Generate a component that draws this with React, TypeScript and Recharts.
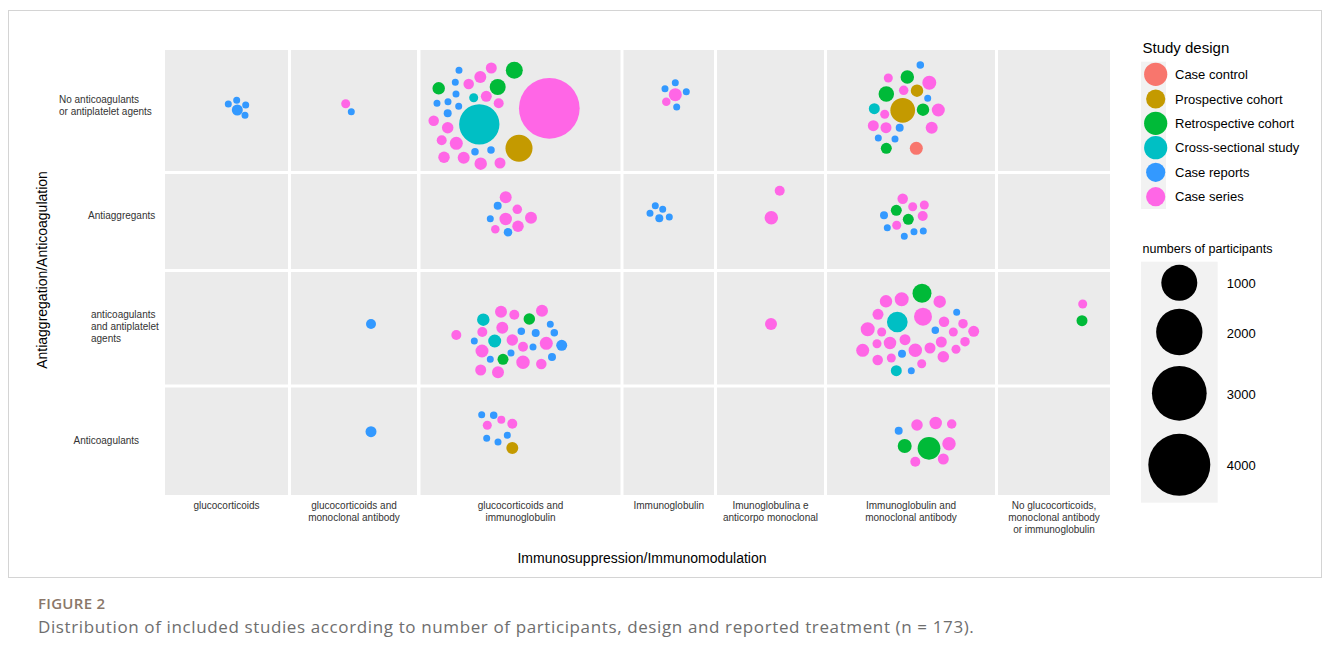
import React from 'react';
import { ScatterChart, Scatter, XAxis, YAxis, ZAxis, ReferenceArea } from 'recharts';

// ---------- categories ----------
const treatments = [
  'glucocorticoids',
  'glucocorticoids and\nmonoclonal antibody',
  'glucocorticoids and\nimmunoglobulin',
  'Immunoglobulin',
  'Imunoglobulina e\nanticorpo monoclonal',
  'Immunoglobulin and\nmonoclonal antibody',
  'No glucocorticoids,\nmonoclonal antibody\nor immunoglobulin',
];
const antithrombotics = [
  'No anticoagulants\nor antiplatelet agents',
  'Antiaggregants',
  'anticoagulants\nand antiplatelet\nagents',
  'Anticoagulants',
];
const designs = [
  'Case control',
  'Prospective cohort',
  'Retrospective cohort',
  'Cross-sectional study',
  'Case reports',
  'Case series',
];
const sizeBreaks = [1000, 2000, 3000, 4000];

// ---------- studies per facet: [design index, participants, packX, packY] ----------
type Study = [number, number, number, number];

const noAnti_gc: Study[] = [
  [4, 1, 63.3, 54], [4, 1, 71.7, 50.3], [4, 1, 80.7, 55], [4, 79, 72.3, 60], [4, 1, 80, 65.3],
];
const noAnti_gcMab: Study[] = [
  [5, 36, 54.7, 53.7], [4, 1, 60.3, 61.7],
];
const noAnti_gcIg: Study[] = [
  [4, 1, 38.5, 20.3], [5, 79, 70.8, 18], [2, 262, 93.8, 20.3], [5, 104, 59.8, 27],
  [4, 1, 34.8, 32.3], [5, 68, 48.2, 34], [2, 118, 18.2, 38.3], [2, 226, 77.2, 37],
  [4, 1, 35.5, 44], [3, 36, 53.2, 47.7], [5, 79, 65.8, 46.3], [4, 1, 16.5, 53.3],
  [4, 1, 27.5, 51.7], [5, 56, 78.2, 53.3], [4, 1, 38.2, 56.3], [4, 17, 27.2, 63.3],
  [5, 68, 13.2, 70.7], [3, 1717, 58.8, 74.3], [5, 92, 27.2, 77.7], [5, 3961, 128.8, 58.3],
  [5, 56, 21.2, 90.3], [5, 132, 35.8, 93.3], [1, 742, 98.5, 98.3], [4, 9, 54.5, 101.7],
  [4, 9, 70.5, 100], [5, 92, 23.5, 107.3], [5, 104, 43.2, 107.7], [5, 118, 60.2, 113.7],
  [5, 79, 79.5, 113],
];
const noAnti_ig: Study[] = [
  [4, 1, 51.8, 32.7], [4, 1, 41.5, 38.7], [5, 132, 51.8, 44.7], [4, 1, 62.8, 41.7],
  [5, 26, 42.8, 51.7], [4, 1, 53.2, 57],
];
const noAnti_igMab: Study[] = [
  [4, 9, 93.3, 15], [5, 36, 61.3, 28], [2, 146, 80.3, 27], [5, 161, 102.3, 32.7],
  [2, 209, 59.3, 44], [5, 46, 76.7, 40.3], [1, 118, 90, 40.7], [4, 1, 100.7, 48.3],
  [3, 79, 47.3, 58.7], [1, 612, 75.7, 60.3], [2, 118, 96, 59.7], [5, 132, 111.3, 60],
  [5, 36, 57.7, 64.3], [5, 79, 46.3, 75.7], [5, 79, 59, 77.7], [4, 17, 72.7, 77.7],
  [5, 104, 104.7, 77.7], [4, 1, 51.3, 88], [4, 1, 68, 89], [2, 79, 59.3, 98.3],
  [0, 132, 89.3, 98.3],
];
const antiAgg_gcIg: Study[] = [
  [5, 104, 85.2, 23.3], [4, 17, 77.2, 31.7], [5, 46, 96.8, 35.3], [4, 1, 69.8, 44.7],
  [5, 118, 85.2, 45], [5, 104, 110.5, 43.7], [5, 92, 97.5, 52.3], [5, 26, 74.8, 55.3],
  [4, 26, 87.5, 58.3],
];
const antiAgg_ig: Study[] = [
  [4, 1, 31.8, 31.7], [4, 1, 39.2, 35.3], [4, 1, 26.5, 39.3], [4, 17, 35.8, 44.3], [4, 1, 45.8, 43],
];
const antiAgg_igMabPt: Study[] = [
  [5, 56, 62.7, 16.7], [5, 146, 54.3, 43.7],
];
const antiAgg_igMab: Study[] = [
  [5, 68, 75.7, 24.7], [5, 36, 85.7, 32.7], [5, 36, 97.3, 31], [2, 79, 69.3, 36.3],
  [4, 17, 57, 41.3], [2, 79, 81.3, 45.3], [5, 56, 95.7, 42], [5, 36, 69.7, 51.3],
  [4, 1, 60.3, 53.7], [4, 1, 87, 57.7], [4, 1, 96.3, 57], [4, 1, 77.3, 62.3],
];
const both_gcMab: Study[] = [
  [4, 56, 80, 52],
];
const both_gcIg: Study[] = [
  [5, 104, 80.5, 39.7], [5, 56, 93.8, 42.7], [5, 104, 121.5, 38.7], [3, 118, 62.8, 47.7],
  [2, 92, 108.8, 47], [4, 1, 129.8, 52.3], [5, 56, 35.8, 63], [5, 56, 61.8, 60],
  [5, 104, 81.8, 55.7], [4, 9, 100.8, 59.3], [4, 17, 115.2, 61], [4, 9, 133.8, 60.7],
  [4, 1, 53.8, 69], [3, 132, 74.2, 69], [5, 92, 91.8, 68], [5, 56, 102.5, 74.7],
  [4, 1, 112.5, 75], [5, 132, 125.8, 71.3], [4, 79, 141.2, 73.3], [5, 132, 61.5, 79],
  [4, 1, 90.5, 81], [4, 1, 69.8, 87.3], [2, 79, 82.5, 87.3], [5, 146, 102.5, 90.3],
  [4, 17, 131.5, 85], [5, 68, 120.8, 92], [5, 79, 60.2, 98], [5, 104, 77.5, 100.3],
];
const both_igMabPt: Study[] = [
  [5, 104, 54, 52],
];
const both_igMab: Study[] = [
  [2, 340, 95, 21.3], [5, 118, 59, 29.3], [5, 161, 74.7, 27.3], [5, 118, 112.7, 29.7],
  [5, 79, 51, 42.3], [3, 414, 70.3, 50], [5, 300, 96, 44.7], [4, 1, 129.7, 40.3],
  [5, 68, 117, 49.7], [5, 46, 136, 51.7], [5, 161, 40.7, 57.3], [5, 36, 54.7, 60],
  [4, 9, 108.3, 58.3], [5, 36, 126.3, 60], [5, 79, 146.7, 59.3], [5, 36, 50, 71.7],
  [5, 118, 63, 71], [5, 79, 78, 67.7], [5, 79, 114.3, 70], [5, 46, 138, 69.7],
  [5, 132, 35.7, 78.3], [5, 146, 88.3, 78.3], [5, 79, 103, 76], [5, 36, 129, 77.3],
  [4, 17, 75, 81.7], [5, 68, 50.7, 88], [5, 36, 64.3, 86], [5, 92, 116.3, 84.7],
  [5, 36, 94.7, 91.7], [3, 79, 69.3, 98.7], [4, 1, 84.3, 98.7],
];
const both_none: Study[] = [
  [5, 36, 84.7, 32], [2, 79, 84, 48.7],
];
const anticoag_gcMab: Study[] = [
  [4, 79, 80, 44.2],
];
const anticoag_gcIg: Study[] = [
  [4, 1, 61.2, 27.2], [4, 9, 73.2, 27.8], [5, 17, 80.8, 32.2], [5, 56, 91.8, 36.2],
  [5, 36, 66.8, 37.8], [4, 1, 66.2, 50.8], [4, 1, 86.8, 47.8], [4, 1, 77.5, 54.5],
  [1, 104, 91.8, 60.5],
];
const anticoag_igMab: Study[] = [
  [4, 17, 71.7, 43.2], [5, 92, 90, 37.5], [5, 118, 108.7, 35.5], [5, 46, 124.7, 36.5],
  [2, 161, 77.7, 58.5], [2, 509, 102, 60.8], [5, 146, 122, 56.2], [5, 56, 88.3, 74.2],
  [5, 79, 116.3, 71.5],
];

// facet membership: [row, column, studies]
const facets: [number, number, Study[]][] = [
  [0, 0, noAnti_gc], [0, 1, noAnti_gcMab], [0, 2, noAnti_gcIg], [0, 3, noAnti_ig], [0, 5, noAnti_igMab],
  [1, 2, antiAgg_gcIg], [1, 3, antiAgg_ig], [1, 4, antiAgg_igMabPt], [1, 5, antiAgg_igMab],
  [2, 1, both_gcMab], [2, 2, both_gcIg], [2, 4, both_igMabPt], [2, 5, both_igMab], [2, 6, both_none],
  [3, 1, anticoag_gcMab], [3, 2, anticoag_gcIg], [3, 5, anticoag_igMab],
];

// ---------- layout / style (not data) ----------
const colSpans = [[0, 123], [126, 252], [255.5, 455.5], [458.5, 549], [552, 659], [662, 830], [833, 945]];
const rowSpans = [[0, 121], [124, 219], [222, 334.5], [337.5, 445]];
const designColors = ['#F8766D', '#C49A00', '#00BA38', '#00BFC4', '#3399FF', '#FF66E6'];
const legendKeyR = [11.6, 9.6, 11.6, 11.6, 9.6, 9.6];
const rowLabelLeft = [59, 88, 91, 73.5];
const rowLabelFirstDy = [-11.2, -5.8, -14.3, -1.3];
const FONT = '"Liberation Sans", Arial, Helvetica, sans-serif';
const CAPTION_FONT = '"Open Sans", "Noto Sans", sans-serif';

const colCenters = colSpans.map(([a, b]) => (a + b) / 2);
const rowCenters = rowSpans.map(([a, b]) => (a + b) / 2);

const seriesData = designs.map((_, d) => {
  const pts: { x: number; y: number; z: number }[] = [];
  facets.forEach(([r, c, studies]) => {
    studies.forEach(([design, participants, px, py]) => {
      if (design === d) pts.push({ x: colSpans[c][0] + px, y: rowSpans[r][0] + py, z: participants });
    });
  });
  return pts;
});

const XTick = (props: any) => {
  const { x, y, payload } = props;
  let idx = colCenters.indexOf(payload.value);
  if (idx < 0) idx = props.index ?? 0;
  const lines = treatments[idx].split('\n');
  return (
    <text x={x} y={y} textAnchor="middle" fontSize={10} fill="#333" fontFamily={FONT}>
      {lines.map((l, i) => (
        <tspan key={i} x={x} dy={i === 0 ? 14 : 12}>{l}</tspan>
      ))}
    </text>
  );
};

const YTick = (props: any) => {
  const { y, payload } = props;
  let idx = rowCenters.indexOf(payload.value);
  if (idx < 0) idx = props.index ?? 0;
  const lines = antithrombotics[idx].split('\n');
  const lx = rowLabelLeft[idx];
  return (
    <text x={lx} y={y + rowLabelFirstDy[idx] + 3.6} textAnchor="start" fontSize={10} fill="#333" fontFamily={FONT}>
      {lines.map((l, i) => (
        <tspan key={i} x={lx} dy={i === 0 ? 0 : 12}>{l}</tspan>
      ))}
    </text>
  );
};

// size legend guide (ggplot guide geometry)
const legendArea = (v: number) => 351 + 0.667 * v;
const sizeLegendCy = [282.8, 332, 393.3, 464.8];
const designLegendCy = [74.3, 99, 123.3, 147.7, 172.3, 196.7];

export default function App() {
  return (
    <div style={{ position: 'absolute', left: 0, top: 0, width: 1330, height: 656, background: '#fff' }}>
      <ScatterChart width={1330} height={656} margin={{ top: 50, right: 220, bottom: 101, left: 15 }}>
        <XAxis
          type="number"
          dataKey="x"
          domain={[0, 945]}
          ticks={colCenters}
          tick={<XTick />}
          interval={0}
          axisLine={false}
          tickLine={false}
          tickSize={0}
          tickMargin={0}
          height={60}
          allowDataOverflow
        />
        <YAxis
          type="number"
          dataKey="y"
          domain={[0, 445]}
          reversed
          ticks={rowCenters}
          tick={<YTick />}
          interval={0}
          axisLine={false}
          tickLine={false}
          tickSize={0}
          tickMargin={0}
          width={150}
          allowDataOverflow
        />
        <ZAxis type="number" dataKey="z" domain={[1, 4000]} range={[38.5, 2922]} />
        {rowSpans.map((r, ri) =>
          colSpans.map((c, ci) => (
            <ReferenceArea
              key={`bg-${ri}-${ci}`}
              x1={c[0]}
              x2={c[1]}
              y1={r[0]}
              y2={r[1]}
              fill="#EBEBEB"
              fillOpacity={1}
              stroke="none"
            />
          ))
        )}
        {designs.map((name, d) => (
          <Scatter
            key={name}
            name={name}
            data={seriesData[d]}
            fill={designColors[d]}
            isAnimationActive={false}
          />
        ))}
      </ScatterChart>
      <svg
        width={1330}
        height={656}
        style={{ position: 'absolute', left: 0, top: 0, pointerEvents: 'none' }}
      >
        <rect x={8.5} y={10.5} width={1313} height={567} fill="none" stroke="#d4d4d4" strokeWidth={1} />
        <text x={642} y={563} textAnchor="middle" fontSize={14} fill="#000" fontFamily={FONT}>
          Immunosuppression/Immunomodulation
        </text>
        <text
          x={42}
          y={270}
          textAnchor="middle"
          dominantBaseline="central"
          fontSize={14}
          fill="#000"
          fontFamily={FONT}
          transform="rotate(-90, 42, 270)"
        >
          Antiaggregation/Anticoagulation
        </text>

        {/* colour legend */}
        <text x={1142.5} y={52.5} fontSize={15} fill="#000" fontFamily={FONT}>Study design</text>
        <rect x={1141} y={61.7} width={25} height={147.3} fill="#F2F2F2" />
        {designs.map((name, d) => (
          <g key={name}>
            <circle cx={1155.7} cy={designLegendCy[d]} r={legendKeyR[d]} fill={designColors[d]} />
            <text x={1175} y={designLegendCy[d] + 4.6} fontSize={13} fill="#000" fontFamily={FONT}>{name}</text>
          </g>
        ))}

        {/* size legend */}
        <text x={1142.5} y={252.7} fontSize={12.5} fill="#000" fontFamily={FONT}>numbers of participants</text>
        <rect x={1141} y={261.7} width={76.7} height={241} fill="#F2F2F2" />
        {sizeBreaks.map((v, i) => (
          <g key={v}>
            <circle cx={1179.3} cy={sizeLegendCy[i]} r={Math.sqrt(legendArea(v) / Math.PI)} fill="#000" />
            <text x={1226.7} y={sizeLegendCy[i] + 5.6} fontSize={13} fill="#000" fontFamily={FONT}>{v}</text>
          </g>
        ))}

        {/* caption */}
        <text x={38} y={609} fontSize={15} fontWeight={600} letterSpacing={0.3} fill="#8a7769" fontFamily={CAPTION_FONT}>
          FIGURE 2
        </text>
        <text x={38} y={633} fontSize={17} letterSpacing={0.62} fill="#6e6e6e" fontFamily={CAPTION_FONT}>
          Distribution of included studies according to number of participants, design and reported treatment (n = 173).
        </text>
      </svg>
    </div>
  );
}
